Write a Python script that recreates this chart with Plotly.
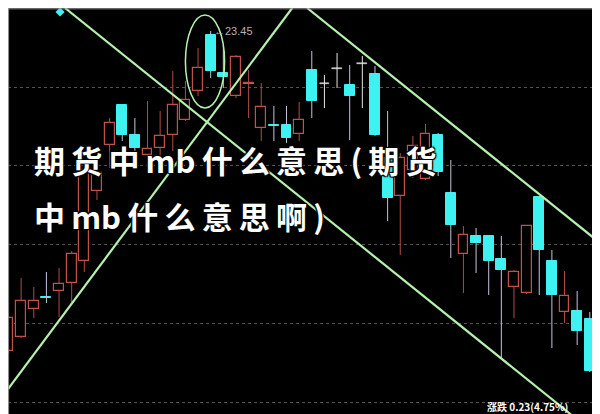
import plotly.graph_objects as go

# ---- data ----
opens  = [20.25, 20.39, 20.67, 20.79, 20.85, 20.93, 21.15, 21.85, 22.31, 22.71,
          22.41, 22.21, 22.28, 22.41, 22.56, 22.85, 23.41, 23.03, 22.80, 22.925,
          22.48, 22.515, 22.51, 22.42, 23.06, 22.92, 23.07, 22.91, 23.12, 23.02,
          22.18, 21.80, 22.06, 21.97, 22.41, 21.83, 21.22, 21.40, 21.40, 21.17,
          20.89, 20.83, 21.79, 21.15, 20.64, 20.65, 20.57, 19.73]
highs  = [20.63, 20.98, 20.89, 21.04, 21.08, 21.25, 22.11, 22.20, 22.58, 22.71,
          22.58, 22.75, 22.65, 23.05, 22.95, 23.28, 23.45, 23.31, 23.21, 23.06,
          22.93, 22.70, 22.70, 22.74, 23.25, 23.01, 23.23, 23.11, 23.20, 23.10,
          22.65, 22.23, 22.40, 22.52, 22.43, 22.16, 21.50, 21.48, 21.40, 21.40,
          21.06, 21.51, 21.80, 21.26, 21.05, 20.85, 20.64, 19.82]
lows   = [20.23, 20.38, 20.58, 20.73, 20.59, 20.74, 21.04, 21.76, 22.08, 22.35,
          22.23, 22.16, 22.16, 22.25, 22.55, 22.80, 22.98, 22.88, 22.78, 22.58,
          22.35, 22.35, 22.33, 22.35, 22.58, 22.68, 22.88, 22.36, 22.68, 22.40,
          21.55, 21.21, 21.98, 21.96, 22.00, 21.18, 20.83, 21.03, 20.81, 20.18,
          20.58, 20.82, 20.81, 20.28, 20.53, 20.31, 20.04, 19.40]
closes = [20.58, 20.75, 20.75, 20.78, 20.92, 21.22, 22.06, 22.03, 22.53, 22.41,
          22.28, 22.27, 22.40, 22.71, 22.76, 23.08, 23.05, 22.99, 23.19, 22.935,
          22.69, 22.505, 22.38, 22.56, 22.75, 22.92, 23.07, 22.80, 23.12, 22.41,
          21.78, 22.18, 22.30, 22.42, 22.04, 21.51, 21.41, 21.33, 21.15, 21.06,
          21.04, 21.50, 21.26, 20.81, 20.80, 20.45, 20.05, 19.43]
days = list(range(len(opens)))

grid_levels = [22.89, 22.11, 21.32, 20.53, 19.74]

# trend lines (two points each: day index, price)
trend1_x = [4.47, 45.25]
trend1_y = [23.68, 19.54]
trend2_x = [-0.04, 22.45]
trend2_y = [19.87, 23.68]
trend3_x = [23.63, 47.31]
trend3_y = [23.68, 21.28]

circle_x = [14.0, 17.1]
circle_y = [22.68, 23.61]

peak_day = 16
peak_price = 23.45
marker_day = [4.08]
marker_price = [23.64]

title_line1 = "期\u2009货\u2009中\u2009mb\u2009什\u2009么\u2009意\u2009思\u2009(\u2009期\u2009货"
title_line2 = "中\u2009mb\u2009什\u2009么\u2009意\u2009思\u2009啊\u2009)"
bottom_text = "涨跌 0.23(4.75%)"

# ---- styles ----
RED = "#c0524c"
RED_WICK = "#b04c4a"
CYAN = "#3ef2f2"
DOWN_WICK = "#c4c4dc"
DOJI = "#e4e4e4"
TREND = "#b6f0ae"

fig = go.Figure()

# wicks (split so they do not cross hollow bodies)
groups = {"up": ([], [], RED_WICK), "down": ([], [], DOWN_WICK), "flat": ([], [], DOJI)}
for d, o, h, l, c in zip(days, opens, highs, lows, closes):
    key = "up" if c > o else ("down" if c < o else "flat")
    xs, ys, _ = groups[key]
    top, bot = max(o, c), min(o, c)
    if h > top:
        xs += [d, d, None]
        ys += [h, top, None]
    if l < bot:
        xs += [d, d, None]
        ys += [bot, l, None]
for key, (xs, ys, col) in groups.items():
    fig.add_trace(go.Scatter(x=xs, y=ys, mode="lines", line=dict(color=col, width=1),
                             hoverinfo="skip", showlegend=False))

# bodies
up_x, up_b, up_h = [], [], []
dn_x, dn_b, dn_h = [], [], []
fl_x, fl_b = [], []
for d, o, c in zip(days, opens, closes):
    if c > o:
        up_x.append(d); up_b.append(o); up_h.append(c - o)
    elif c < o:
        dn_x.append(d); dn_b.append(c); dn_h.append(o - c)
    else:
        fl_x.append(d); fl_b.append(o)

fig.add_trace(go.Bar(x=up_x, y=up_h, base=up_b, width=0.78,
                     marker=dict(color="black", line=dict(color=RED, width=1.2)),
                     showlegend=False))
fig.add_trace(go.Bar(x=dn_x, y=dn_h, base=dn_b, width=0.78,
                     marker=dict(color=CYAN, line=dict(color=CYAN, width=1)),
                     showlegend=False))
fig.add_trace(go.Bar(x=fl_x, y=[0.012] * len(fl_x), base=fl_b, width=0.78,
                     marker=dict(color=DOJI, line=dict(color=DOJI, width=0.5)),
                     showlegend=False))

# trend lines
for tx, ty in [(trend1_x, trend1_y), (trend2_x, trend2_y), (trend3_x, trend3_y)]:
    fig.add_trace(go.Scatter(x=tx, y=ty, mode="lines", line=dict(color=TREND, width=2.2),
                             hoverinfo="skip", showlegend=False))

fig.add_trace(go.Scatter(x=marker_day, y=marker_price, mode="markers",
                         marker=dict(symbol="diamond", size=7, color=CYAN),
                         showlegend=False))

fig.add_shape(type="circle", xref="x", yref="y",
              x0=circle_x[0], x1=circle_x[1], y0=circle_y[0], y1=circle_y[1],
              line=dict(color=TREND, width=1.5))

# frame edges
fig.add_shape(type="line", xref="paper", yref="paper", x0=0.001, x1=0.001, y0=0, y1=1,
              line=dict(color="#9a9a9a", width=1))
fig.add_shape(type="line", xref="paper", yref="paper", x0=0, x1=1, y0=0.998, y1=0.998,
              line=dict(color="#9a9a9a", width=1))
fig.add_shape(type="line", xref="paper", yref="paper", x0=0.9975, x1=0.9975, y0=0, y1=1,
              line=dict(color="#d8d8d8", width=2))

fig.add_annotation(x=peak_day, y=peak_price, xref="x", yref="y", text="←23.45",
                   showarrow=False, xanchor="left", yanchor="middle", xshift=1,
                   font=dict(family="Liberation Sans, Arial", size=11, color="#b4b4b4"))

shadow = "1px 1px 1px #000, -1px -1px 1px #000, 1px -1px 1px #000, -1px 1px 1px #000"
fig.add_annotation(x=0.04, y=0.635, xref="paper", yref="paper", text=title_line1,
                   showarrow=False, xanchor="left", yanchor="middle",
                   font=dict(family="Noto Sans CJK SC", size=31, color="white",
                             weight="bold", shadow=shadow))
fig.add_annotation(x=0.04, y=0.498, xref="paper", yref="paper", text=title_line2,
                   showarrow=False, xanchor="left", yanchor="middle",
                   font=dict(family="Noto Sans CJK SC", size=31, color="white",
                             weight="bold", shadow=shadow))
fig.add_annotation(x=0.795, y=0.0, xref="paper", yref="paper", text=bottom_text,
                   showarrow=False, xanchor="left", yanchor="bottom", yshift=6,
                   font=dict(family="Noto Sans CJK SC", size=10, color="white", weight="bold"))

fig.update_layout(
    width=600, height=414,
    margin=dict(l=0, r=0, t=0, b=0),
    paper_bgcolor="black", plot_bgcolor="black",
    barmode="overlay", bargap=0,
    showlegend=False,
    xaxis=dict(range=[-0.04, 47.44], showgrid=False, zeroline=False,
               showticklabels=False, ticks="", fixedrange=True),
    yaxis=dict(range=[19.54, 23.68], tickvals=grid_levels, showticklabels=False,
               showgrid=True, gridcolor="#5a5050", griddash="dot", gridwidth=1,
               zeroline=False, ticks="", fixedrange=True),
)

fig.write_html("out.html")
